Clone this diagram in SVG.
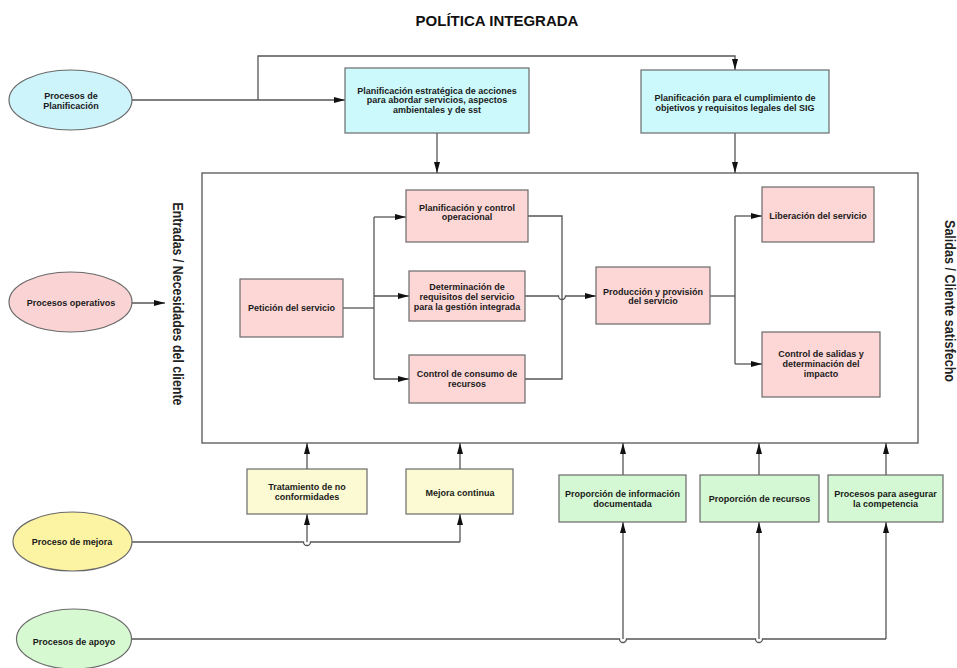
<svg xmlns="http://www.w3.org/2000/svg" width="957" height="668" viewBox="0 0 957 668">
<defs>
<style>
.box{stroke:#6a6a6a;stroke-width:1.2}
.cy{fill:#ccfafc}.pk{fill:#fdd6d6}.yl{fill:#fcfad2}.gr{fill:#d3f8d3}
.t{font-family:"Liberation Sans",Arial,sans-serif;font-size:9px;font-weight:bold;fill:#1a1a1a;text-anchor:middle}
.side{font-family:"Liberation Sans",Arial,sans-serif;font-size:14px;font-weight:bold;fill:#222;text-anchor:middle}
.ln{fill:none;stroke:#555;stroke-width:1.3}
.ar{marker-end:url(#arr)}
</style>
<marker id="arr" markerUnits="userSpaceOnUse" markerWidth="12" markerHeight="7" refX="11" refY="3" orient="auto">
<path d="M0,0 L11,3 L0,6 z" fill="#111"/>
</marker>
</defs>
<rect width="957" height="668" fill="#fff"/>
<text x="497" y="26" font-family="Liberation Sans,Arial,sans-serif" font-size="15" font-weight="bold" text-anchor="middle" fill="#111">POLÍTICA INTEGRADA</text>

<g id="outer"><rect x="202" y="173" width="716" height="270" fill="none" stroke="#555" stroke-width="1.3"/></g>

<text class="side" transform="translate(173,304) rotate(90)" textLength="203" lengthAdjust="spacingAndGlyphs">Entradas / Necesidades del cliente</text>
<text class="side" transform="translate(945,301) rotate(90)" textLength="162" lengthAdjust="spacingAndGlyphs">Salidas / Cliente satisfecho</text>

<g id="connectors">
<path class="ln ar" d="M132,100 L345,100"/>
<path class="ln ar" d="M258,100 L258,56 L735,56 L735,70"/>
<path class="ln ar" d="M437,133 L437,173"/>
<path class="ln ar" d="M735,133 L735,173"/>
<path class="ln ar" d="M132,303 L165,303"/>
<path class="ln" d="M343,308 L374,308"/>
<path class="ln" d="M374,217 L374,379"/>
<path class="ln ar" d="M374,217 L406,217"/>
<path class="ln ar" d="M374,296 L409,296"/>
<path class="ln ar" d="M374,379 L409,379"/>
<path class="ln" d="M528,216 L562,216 L562,379 L525,379"/>
<path class="ln ar" d="M525,296 L558.5,296 A3.5,3.5 0 0 0 565.5,296 L596,296"/>
<path class="ln" d="M710,296 L735,296"/>
<path class="ln" d="M735,216 L735,364"/>
<path class="ln ar" d="M735,216 L762,216"/>
<path class="ln ar" d="M735,364 L762,364"/>
<path class="ln ar" d="M307,469 L307,443"/>
<path class="ln ar" d="M460,469 L460,443"/>
<path class="ln ar" d="M623,475 L623,443"/>
<path class="ln ar" d="M759,475 L759,443"/>
<path class="ln ar" d="M886,475 L886,443"/>
<path class="ln" d="M132,542 L303.5,542 A3.5,3.5 0 0 0 310.5,542 L460,542"/>
<path class="ln ar" d="M307,542 L307,514"/>
<path class="ln ar" d="M460,542 L460,514"/>
<path class="ln" d="M132,639 L619.5,639 A3.5,3.5 0 0 0 626.5,639 L755.5,639 A3.5,3.5 0 0 0 762.5,639 L886,639"/>
<path class="ln ar" d="M623,639 L623,522"/>
<path class="ln ar" d="M759,639 L759,522"/>
<path class="ln ar" d="M886,639 L886,522"/>
</g>

<g id="proc-planificacion">
<ellipse cx="70.5" cy="100" rx="61.5" ry="30" fill="#cdf3fb" class="box"/>
<text class="t" x="71" y="99">Procesos de</text>
<text class="t" x="71" y="108.5">Planificación</text>
</g>
<g id="plan-estrategica">
<rect x="345" y="68" width="184" height="65" class="box cy"/>
<text class="t" x="437" y="93.5">Planificación estratégica de acciones</text>
<text class="t" x="437" y="103">para abordar servicios, aspectos</text>
<text class="t" x="437" y="112.5">ambientales y de sst</text>
</g>
<g id="plan-cumplimiento">
<rect x="641" y="70" width="188" height="63" class="box cy"/>
<text class="t" x="735" y="100.5">Planificación para el cumplimiento de</text>
<text class="t" x="735" y="110.5">objetivos y requisitos legales del SIG</text>
</g>

<g id="proc-operativos">
<ellipse cx="70.5" cy="302" rx="61.5" ry="30" fill="#fad4d4" class="box"/>
<text class="t" x="71" y="305.5">Procesos operativos</text>
</g>
<g id="peticion">
<rect x="240" y="279" width="103" height="58" class="box pk"/>
<text class="t" x="291.5" y="311">Petición del servicio</text>
</g>
<g id="plan-control">
<rect x="406" y="190" width="122" height="52" class="box pk"/>
<text class="t" x="467" y="210.5">Planificación y control</text>
<text class="t" x="467" y="220">operacional</text>
</g>
<g id="determinacion">
<rect x="409" y="271" width="116" height="50" class="box pk"/>
<text class="t" x="467" y="289.5">Determinación de</text>
<text class="t" x="467" y="299.5">requisitos del servicio</text>
<text class="t" x="467" y="309.5">para la gestión integrada</text>
</g>
<g id="control-consumo">
<rect x="409" y="355" width="116" height="48" class="box pk"/>
<text class="t" x="467" y="377">Control de consumo de</text>
<text class="t" x="467" y="387">recursos</text>
</g>
<g id="produccion">
<rect x="596" y="267" width="114" height="57" class="box pk"/>
<text class="t" x="653" y="294.5">Producción y provisión</text>
<text class="t" x="653" y="304">del servicio</text>
</g>
<g id="liberacion">
<rect x="762" y="187" width="112" height="55" class="box pk"/>
<text class="t" x="818" y="218.5">Liberación del servicio</text>
</g>
<g id="control-salidas">
<rect x="762" y="332" width="118" height="65" class="box pk"/>
<text class="t" x="821" y="357">Control de salidas y</text>
<text class="t" x="821" y="367">determinación del</text>
<text class="t" x="821" y="377">impacto</text>
</g>

<g id="tratamiento">
<rect x="247" y="469" width="120" height="45" class="box yl"/>
<text class="t" x="307" y="490">Tratamiento de no</text>
<text class="t" x="307" y="500">conformidades</text>
</g>
<g id="mejora-continua">
<rect x="406" y="469" width="107" height="45" class="box yl"/>
<text class="t" x="460" y="495.5">Mejora continua</text>
</g>
<g id="proc-mejora">
<ellipse cx="72.5" cy="541.5" rx="59.5" ry="29.5" fill="#fcf4a3" class="box"/>
<text class="t" x="72" y="545">Proceso de mejora</text>
</g>

<g id="prop-info">
<rect x="559" y="475" width="127" height="47" class="box gr"/>
<text class="t" x="622.5" y="497">Proporción de información</text>
<text class="t" x="622.5" y="507">documentada</text>
</g>
<g id="prop-recursos">
<rect x="700" y="475" width="119" height="47" class="box gr"/>
<text class="t" x="759.5" y="502">Proporción de recursos</text>
</g>
<g id="competencia">
<rect x="828" y="475" width="115" height="47" class="box gr"/>
<text class="t" x="885.5" y="497">Procesos para asegurar</text>
<text class="t" x="885.5" y="507">la competencia</text>
</g>
<g id="proc-apoyo">
<ellipse cx="74" cy="639" rx="57.5" ry="30" fill="#d6f9d1" class="box"/>
<text class="t" x="74" y="644.5">Procesos de apoyo</text>
</g>
</svg>
